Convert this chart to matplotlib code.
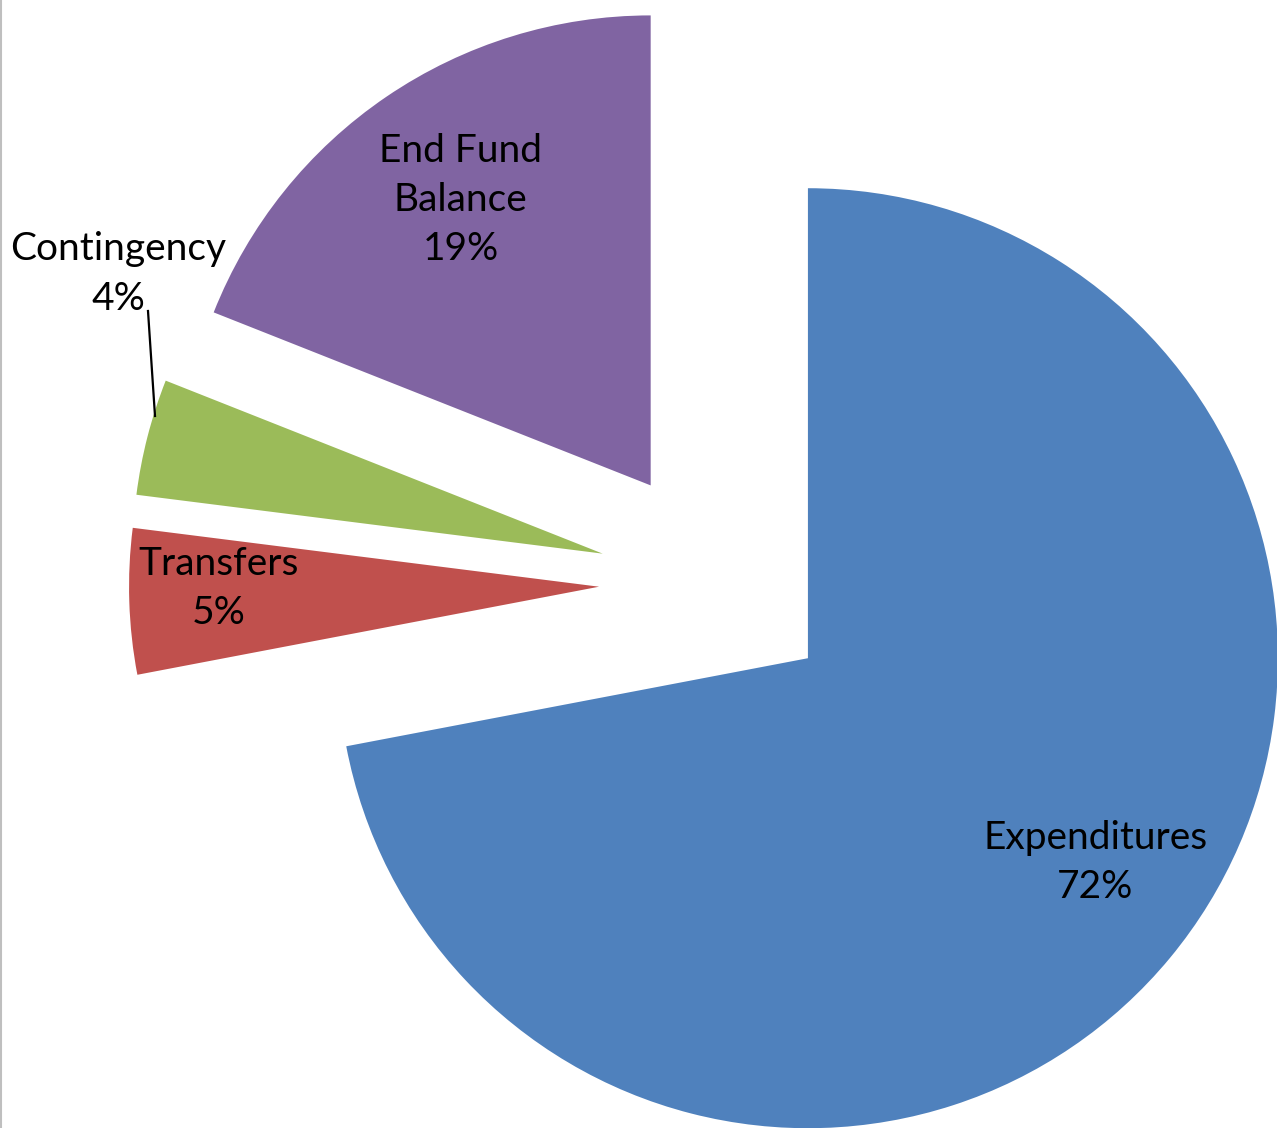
import numpy as np
import matplotlib.pyplot as plt

# fund allocation shares (percent)
categories = ['Expenditures', 'Transfers', 'Contingency', 'End Fund\nBalance']
shares = [72, 5, 4, 19]
colors = ['#4F81BD', '#C0504D', '#9BBB59', '#8064A2']

# label anchor per slice: (radial fraction, angle offset deg) from the slice vertex
label_pos = [(0.75, 4.2), (0.81, -1.5), (1.19, -15.6), (0.73, -0.6)]

plt.rcParams['font.family'] = ['Lato', 'DejaVu Sans']

W, H = 1277, 1128
fig = plt.figure(figsize=(W / 100, H / 100), dpi=100)
ax = fig.add_axes([0, 0, 1, 1])

cx, cy, r = 717, 545, 470
explode = [118] * len(shares)   # pie adds explode directly in data units
wedges, _ = ax.pie(shares, colors=colors, startangle=90, counterclock=False,
                   explode=explode, center=(cx, cy), radius=r,
                   wedgeprops=dict(linewidth=0), frame=True)
ax.set_xlim(0, W)
ax.set_ylim(0, H)
ax.set_aspect('equal')
ax.axis('off')

for w, name, val, (fr, da) in zip(wedges, categories, shares, label_pos):
    mid = np.deg2rad((w.theta1 + w.theta2) / 2 + da)
    x0, y0 = w.center
    tx = x0 + fr * r * np.cos(mid)
    ty = y0 + fr * r * np.sin(mid)
    ax.text(tx, ty, f'{name}\n{val}%', ha='center', va='center',
            fontsize=28, linespacing=1.45, color='black')

# leader line for the small contingency slice
ax.plot([148, 155], [H - 311, H - 416], color='black', lw=1.6)

# thin border at the left edge
ax.plot([0.5, 0.5], [0, H], color='#BFBFBF', lw=1.5)

fig.savefig('out.png', dpi=100)
